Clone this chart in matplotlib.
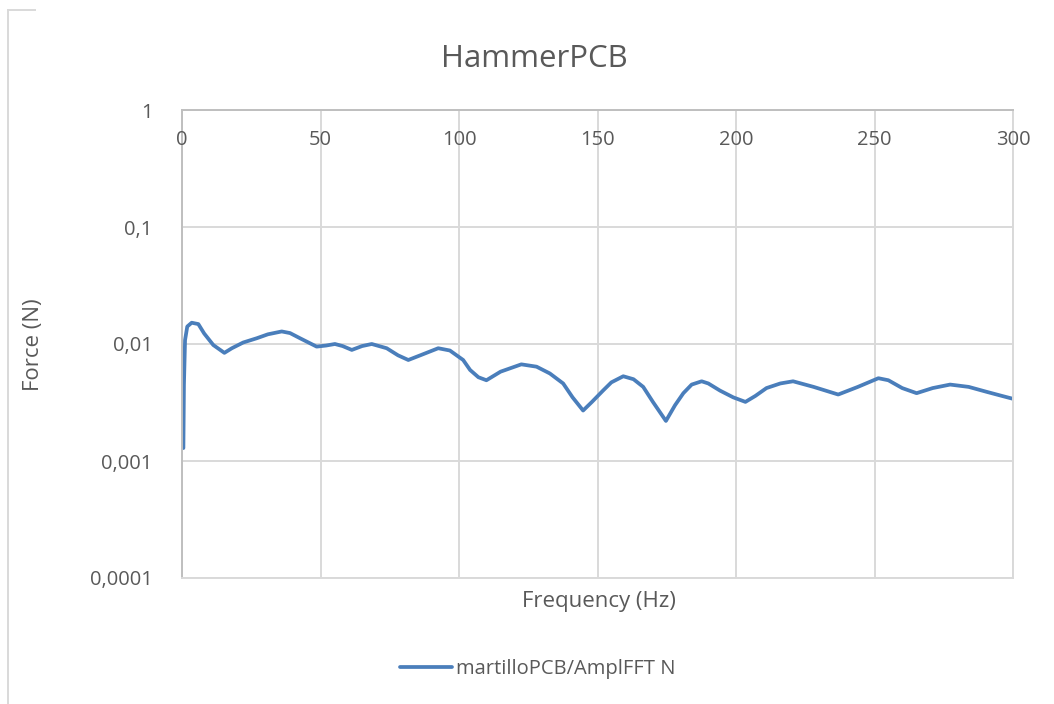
import matplotlib
matplotlib.use("Agg")
import matplotlib.pyplot as plt
from matplotlib.lines import Line2D

plt.rcParams['font.family'] = ['Open Sans', 'DejaVu Sans']

# ---- data ----
freq_hz = [0.5, 0.7, 1.1, 1.9, 3.5, 5.9, 8.0, 11.3, 15.3, 18, 22.1, 27, 31, 36, 39,
           42.6, 48.6, 52, 55.2, 58, 61.3, 65, 68.5, 73.9, 78, 81.7, 86, 92.5, 96.7,
           101.5, 104, 107, 109.9, 115, 122.5, 128, 132.8, 137.6, 141, 144.8, 148,
           152, 155, 159.3, 163, 166.5, 170, 174.7, 178, 181, 184, 187.6, 190, 194.2,
           199, 203.4, 207, 211, 216, 220.6, 228, 236.9, 244, 251.4, 255, 260, 265.2,
           271, 277.3, 284, 290.5, 296, 300]
force_n = [0.00129, 0.0045, 0.0108, 0.0141, 0.0152, 0.0148, 0.0123, 0.0098, 0.0084,
           0.0092, 0.0103, 0.0112, 0.0121, 0.0128, 0.0124, 0.0112, 0.0095, 0.0097,
           0.0100, 0.0096, 0.0089, 0.0096, 0.0100, 0.0092, 0.0080, 0.0073, 0.0080,
           0.0092, 0.0088, 0.0073, 0.0060, 0.0052, 0.0049, 0.0058, 0.0067, 0.0064,
           0.0056, 0.0046, 0.0035, 0.0027, 0.0032, 0.0040, 0.0047, 0.0053, 0.0050,
           0.0043, 0.0032, 0.0022, 0.0030, 0.0038, 0.0045, 0.0048, 0.0046, 0.0040,
           0.0035, 0.0032, 0.0036, 0.0042, 0.0046, 0.0048, 0.0043, 0.0037, 0.0043,
           0.0051, 0.0049, 0.0042, 0.0038, 0.0042, 0.0045, 0.0043, 0.0039, 0.0036,
           0.0034]

x_ticks = [0, 50, 100, 150, 200, 250, 300]
y_ticks = [1, 0.1, 0.01, 0.001, 0.0001]
y_tick_labels = ["1", "0,1", "0,01", "0,001", "0,0001"]

title = "HammerPCB"
x_label = "Frequency (Hz)"
y_label = "Force (N)"
series_name = "martilloPCB/AmplFFT N"

text_color = "#595959"
grid_color = "#d9d9d9"
axis_color = "#bfbfbf"
line_color = "#4a7ebb"

W, H = 1054, 704
fig = plt.figure(figsize=(W / 100, H / 100), dpi=100)
fig.patch.set_facecolor("white")

ax = fig.add_axes([182 / W, 1 - 578 / H, (1013 - 182) / W, (578 - 110) / H])
ax.set_yscale("log")
ax.set_xlim(0, 300)
ax.set_ylim(0.0001, 1)

ax.set_xticks(x_ticks)
ax.set_yticks(y_ticks)
ax.set_yticklabels(y_tick_labels)
ax.yaxis.set_minor_locator(matplotlib.ticker.NullLocator())
ax.tick_params(axis="both", length=0)
ax.tick_params(axis="y", pad=21, labelsize=14.5, labelcolor=text_color)
ax.tick_params(axis="x", labelbottom=False)
ax.grid(True, color=grid_color, linewidth=1.4)
ax.set_axisbelow(True)

for side in ["bottom", "right"]:
    ax.spines[side].set_color(grid_color)
    ax.spines[side].set_linewidth(1.4)
for side in ["left", "top"]:
    ax.spines[side].set_color(axis_color)
    ax.spines[side].set_linewidth(1.4)

# x tick labels sit just below the horizontal axis, which crosses at the top
for xt in x_ticks:
    ax.text(xt, 1 - 30 / (578 - 110), str(xt), transform=ax.get_xaxis_transform(),
            ha="center", va="center", fontsize=14.5, color=text_color)

ax.plot(freq_hz, force_n, color=line_color, linewidth=2.7, solid_capstyle="round",
        solid_joinstyle="round", label=series_name)

fig.text(534 / W, 1 - 59 / H, title, ha="center", va="center", fontsize=22.5,
         color=text_color)
fig.text(599 / W, 1 - 601 / H, x_label, ha="center", va="center", fontsize=16,
         color=text_color)
fig.text(34 / W, 1 - 345 / H, y_label, ha="center", va="center", fontsize=16,
         color=text_color, rotation=90)

leg = fig.legend(loc="center", bbox_to_anchor=(538 / W, 1 - 669 / H), frameon=False,
                 fontsize=14.5, handlelength=2.6, handletextpad=0.2,
                 labelcolor=text_color)

# partial outer chart frame (cropped screenshot)
fig.add_artist(Line2D([8 / W, 8 / W], [0, 1 - 10 / H], transform=fig.transFigure,
                      color=grid_color, linewidth=1.4))
fig.add_artist(Line2D([8 / W, 35 / W], [1 - 10 / H, 1 - 10 / H],
                      transform=fig.transFigure, color=grid_color, linewidth=1.4))

fig.savefig("out.png", dpi=100)
